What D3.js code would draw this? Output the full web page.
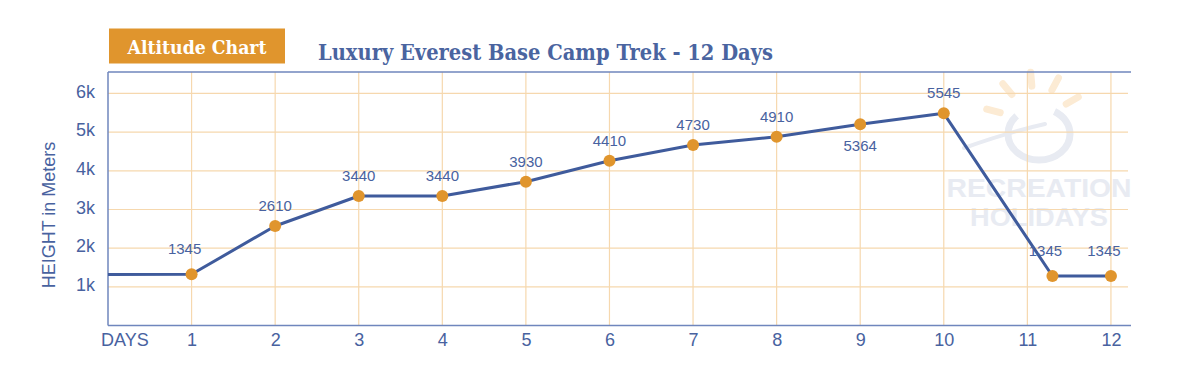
<!DOCTYPE html>
<html>
<head>
<meta charset="utf-8">
<script src="https://cdn.jsdelivr.net/npm/d3@7"></script>
<style>
  html, body { margin: 0; padding: 0; background: #ffffff; }
  svg { display: block; }
  .serif { font-family: "DejaVu Serif", serif; }
</style>
</head>
<body>
<svg id="chart" width="1201" height="375"></svg>
<script>
// ---- data ----
const chartBadge = "Altitude Chart";
const chartTitle = "Luxury Everest Base Camp Trek - 12 Days";
const yAxisTitle = "HEIGHT in Meters";
const xAxisTitle = "DAYS";
const dayTicks = [1, 2, 3, 4, 5, 6, 7, 8, 9, 10, 11, 12];
const yTicks = [1000, 2000, 3000, 4000, 5000, 6000];
const yTickLabels = ["1k", "2k", "3k", "4k", "5k", "6k"];
// plotted positions (day index as drawn, height as drawn)
const trekDays = [0, 1, 2, 3, 4, 5, 6, 7, 8, 9, 10, 11.3, 12];
const trekHeights = [1317, 1324, 2573, 3349, 3349, 3719, 4262, 4668, 4882, 5203, 5487, 1280, 1280];
// printed value labels for each marked day (first entry = start, unlabeled)
const heightLabels = [null, "1345", "2610", "3440", "3440", "3930", "4410", "4730", "4910", "5364", "5545", "1345", "1345"];
const watermarkLines = ["RECREATION", "HOLIDAYS"];

(function () {
// ---- layout ----
const svg = d3.select("#chart");
const pLeft = 108, pRight = 1131, pTop = 72, pBottom = 325.5;
const blue = "#4862a0";
const lineBlue = "#3f5b9c";
const orange = "#e0952d";
const gridCol = "#f6d8ae";
const wmGray = "#e8ebf2";

const x = d3.scaleLinear().domain([0, 12.24]).range([pLeft, pRight]);
const y = d3.scaleLinear().domain([0, 6555]).range([pBottom, pTop]);

svg.append("rect").attr("width", 1201).attr("height", 375).attr("fill", "#ffffff");

// watermark logo
const wm = svg.append("g").attr("class", "watermark");
const cx = 1039, cy = 134;
const rays = [-165, -130, -95, -62, -30];
wm.selectAll("line.ray").data(rays).join("line")
  .attr("class", "ray")
  .attr("x1", d => cx - 4 + 36 * Math.cos(d * Math.PI / 180))
  .attr("y1", d => cy - 12 + 36 * Math.sin(d * Math.PI / 180))
  .attr("x2", d => cx - 4 + 50 * Math.cos(d * Math.PI / 180))
  .attr("y2", d => cy - 12 + 50 * Math.sin(d * Math.PI / 180))
  .attr("stroke", "#fcebd4").attr("stroke-width", 7).attr("stroke-linecap", "round");
wm.append("ellipse")
  .attr("cx", cx).attr("cy", cy).attr("rx", 31).attr("ry", 26)
  .attr("fill", "none").attr("stroke", wmGray).attr("stroke-width", 7)
  .attr("stroke-dasharray", "130 40").attr("stroke-dashoffset", 20);
wm.append("path")
  .attr("d", `M ${cx - 75} ${cy + 14} Q ${cx - 30} ${cy - 2} ${cx + 6} ${cy - 10}`)
  .attr("fill", "none").attr("stroke", wmGray).attr("stroke-width", 4).attr("stroke-linecap", "round");
wm.selectAll("text").data(watermarkLines).join("text")
  .attr("x", 1039)
  .attr("y", (d, i) => 197 + i * 29)
  .attr("text-anchor", "middle")
  .attr("font-family", "Liberation Sans, Arial, sans-serif")
  .attr("font-weight", "bold")
  .attr("font-size", 26)
  .attr("fill", wmGray)
  .attr("textLength", (d, i) => i === 0 ? 185 : 138)
  .attr("lengthAdjust", "spacingAndGlyphs")
  .text(d => d);

// grid
const grid = svg.append("g").attr("class", "grid");
grid.selectAll("line.h").data(yTicks).join("line")
  .attr("class", "h")
  .attr("x1", pLeft).attr("x2", pRight - 3)
  .attr("y1", d => y(d)).attr("y2", d => y(d))
  .attr("stroke", gridCol).attr("stroke-width", 1.2);
grid.selectAll("line.v").data(dayTicks).join("line")
  .attr("class", "v")
  .attr("x1", d => x(d)).attr("x2", d => x(d))
  .attr("y1", pTop).attr("y2", pBottom)
  .attr("stroke", gridCol).attr("stroke-width", 1.2);

// frame (left, top, bottom)
const frame = svg.append("g").attr("stroke", "#6f86bd").attr("stroke-width", 1.5);
frame.append("line").attr("x1", pLeft).attr("x2", pLeft).attr("y1", pTop).attr("y2", pBottom);
frame.append("line").attr("x1", pLeft).attr("x2", pRight).attr("y1", pTop).attr("y2", pTop);
frame.append("line").attr("x1", pLeft).attr("x2", pRight).attr("y1", pBottom).attr("y2", pBottom);

// y axis tick labels
const yAxis = d3.axisLeft(y).tickValues(yTicks)
  .tickFormat((d, i) => yTickLabels[i]).tickSize(0).tickPadding(0);
const yg = svg.append("g").attr("transform", `translate(95,0)`).call(yAxis);
yg.select(".domain").remove();
yg.selectAll("text")
  .attr("font-family", "Liberation Sans, Arial, sans-serif")
  .attr("font-size", 18).attr("fill", blue).attr("dy", "0.2em");

// x axis tick labels
const xAxis = d3.axisBottom(x).tickValues(dayTicks).tickSize(0).tickPadding(0);
const xg = svg.append("g").attr("transform", `translate(0,${pBottom})`).call(xAxis);
xg.select(".domain").remove();
xg.selectAll("text")
  .attr("font-family", "Liberation Sans, Arial, sans-serif")
  .attr("font-size", 18).attr("fill", blue)
  .attr("dy", null).attr("y", 20.5);

svg.append("text")
  .attr("x", 101).attr("y", 346)
  .attr("font-family", "Liberation Sans, Arial, sans-serif")
  .attr("font-size", 18).attr("fill", blue)
  .text(xAxisTitle);

svg.append("text")
  .attr("transform", "translate(55,215) rotate(-90)")
  .attr("text-anchor", "middle")
  .attr("font-family", "Liberation Sans, Arial, sans-serif")
  .attr("font-size", 18).attr("fill", blue)
  .text(yAxisTitle);

// badge + title
svg.append("rect")
  .attr("x", 109).attr("y", 28.5).attr("width", 176).attr("height", 35)
  .attr("fill", orange);
svg.append("text")
  .attr("class", "serif")
  .attr("x", 127.5).attr("y", 53.5)
  .attr("font-size", 18).attr("font-weight", "bold").attr("fill", "#ffffff")
  .attr("textLength", 139).attr("lengthAdjust", "spacingAndGlyphs")
  .text(chartBadge);
svg.append("text")
  .attr("class", "serif")
  .attr("x", 318).attr("y", 60)
  .attr("font-size", 22).attr("font-weight", "bold").attr("fill", "#4a64a0")
  .attr("textLength", 455).attr("lengthAdjust", "spacingAndGlyphs")
  .text(chartTitle);

// line
const pts = trekDays.map((d, i) => ({ day: d, h: trekHeights[i], label: heightLabels[i], i }));
const line = d3.line().x(d => x(d.day)).y(d => y(d.h));
svg.append("path")
  .datum(pts)
  .attr("d", line)
  .attr("fill", "none").attr("stroke", lineBlue).attr("stroke-width", 3)
  .attr("stroke-linejoin", "round");

const marked = pts.filter(d => d.label !== null);
svg.selectAll("circle.pt").data(marked).join("circle")
  .attr("class", "pt")
  .attr("cx", d => x(d.day)).attr("cy", d => y(d.h))
  .attr("r", 6).attr("fill", orange);

// value labels: above the point; day 9 label sits below
svg.selectAll("text.val").data(marked).join("text")
  .attr("class", "val")
  .attr("x", d => x(d.day) - (d.h < 2000 ? 7 : 0))
  .attr("y", d => {
    if (d.i === 9) return y(d.h) + 27;
    return y(d.h) - (d.h < 2000 ? 20 : 15);
  })
  .attr("text-anchor", "middle")
  .attr("font-family", "Liberation Sans, Arial, sans-serif")
  .attr("font-size", 15).attr("fill", blue)
  .text(d => d.label);
})();
</script>
</body>
</html>
